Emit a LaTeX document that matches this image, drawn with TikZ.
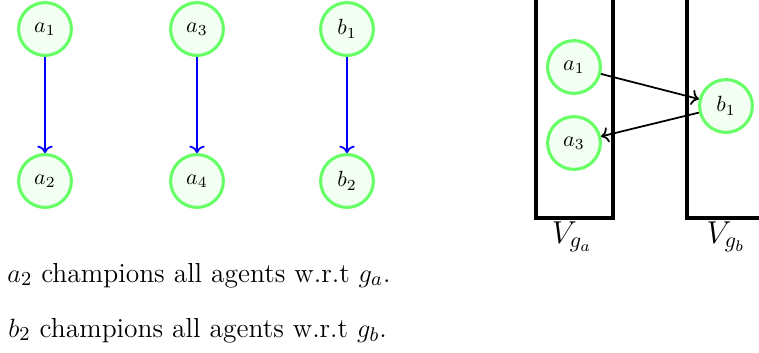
\documentclass[tikz,border=0pt]{standalone}
\usetikzlibrary{arrows.meta}
\begin{document}
\begin{tikzpicture}[x=0.4545pt,y=-0.4545pt,
  agent/.style={circle,draw=green!60,fill=green!5,line width=1.4pt,minimum size=24pt,inner sep=0pt},
  blueedge/.style={->,draw=blue,line width=0.8pt},
  blackedge/.style={->,draw=black,line width=0.8pt},
  part/.style={draw=black,line width=1.4pt},
  caption/.style={anchor=base west,inner sep=0pt,font=\fontsize{12.5}{15}\selectfont}]
\useasboundingbox (0,0) rectangle (759,352);
% left graph
\node[agent] (la1) at (45,29) {$a_1$};
\node[agent] (la2) at (45,181) {$a_2$};
\node[agent] (la3) at (197,29) {$a_3$};
\node[agent] (la4) at (197,181) {$a_4$};
\node[agent] (lb1) at (347,29) {$b_1$};
\node[agent] (lb2) at (347,181) {$b_2$};
\draw[blueedge] (la1) -- (la2);
\draw[blueedge] (la3) -- (la4);
\draw[blueedge] (lb1) -- (lb2);
% texts
\node[caption] (t1) at (7,282) {$a_2$ champions all agents w.r.t $g_a$.};
\node[caption] (t2) at (8,337) {$b_2$ champions all agents w.r.t $g_b$.};
% partitions
\draw[part] (536,-2) -- (536,218) -- (613,218) -- (613,-2);
\draw[part] (687,-2) -- (687,218) -- (762,218);
\node[anchor=base,inner sep=0pt] (va) at (572,243) {\Large $V_{g_a}$};
\node[anchor=base,inner sep=0pt] (vb) at (726,243) {\Large $V_{g_b}$};
% right graph
\node[agent] (ra1) at (574,67) {$a_1$};
\node[agent] (ra3) at (574,143) {$a_3$};
\node[agent] (rb1) at (726,106) {$b_1$};
\draw[blackedge] (ra1) -- (rb1);
\draw[blackedge] (rb1) -- (ra3);
\end{tikzpicture}
\end{document}
